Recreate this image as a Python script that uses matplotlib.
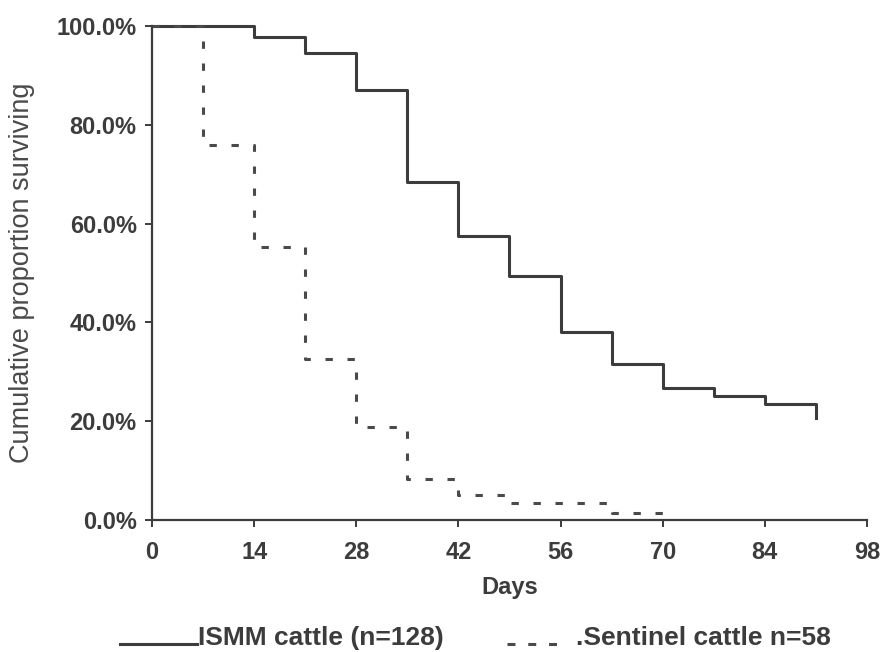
import matplotlib.pyplot as plt
from matplotlib.lines import Line2D
from matplotlib.ticker import FuncFormatter

plt.rcParams['font.family'] = ['Liberation Sans', 'DejaVu Sans']

# Kaplan-Meier steps (days, % surviving)
ismm_days = [0, 14, 21, 28, 35, 42, 49, 56, 63, 70, 77, 84, 91]
ismm_surv = [100, 97.8, 94.6, 87.0, 68.5, 57.5, 49.4, 38.1, 31.6, 26.8, 25.2, 23.5, 20.6]

sent_days = [0, 7, 14, 21, 28, 35, 42, 49, 63, 70]
sent_surv = [100, 75.9, 55.3, 32.5, 18.9, 8.4, 5.1, 3.5, 1.5, 0]

x_ticks = [0, 14, 28, 42, 56, 70, 84, 98]
y_ticks = [0, 20, 40, 60, 80, 100]

ink = '#3c3c3c'
W, H = 883, 652

fig = plt.figure(figsize=(W / 100, H / 100), dpi=100)
ax = fig.add_axes([152 / W, 1 - 520 / H, 715 / W, 494 / H])

ax.step(ismm_days, ismm_surv, where='post', color=ink, lw=2.2, clip_on=False)
ax.step(sent_days, sent_surv, where='post', color='#4a4a4a', lw=2.2,
        dashes=(2.4, 4.8), clip_on=False)

ax.set_xlim(0, 98)
ax.set_ylim(0, 100)
ax.set_xticks(x_ticks)
ax.set_yticks(y_ticks)
ax.yaxis.set_major_formatter(FuncFormatter(lambda v, p: f'{v:.1f}%'))

for s in ['top', 'right']:
    ax.spines[s].set_visible(False)
for s in ['left', 'bottom']:
    ax.spines[s].set_color(ink)
    ax.spines[s].set_linewidth(1.6)

ax.tick_params(axis='both', direction='out', length=5, width=1.4, color=ink,
               labelcolor=ink, labelsize=17)
ax.tick_params(axis='x', pad=10)
ax.tick_params(axis='y', pad=6)
for lab in ax.get_xticklabels() + ax.get_yticklabels():
    lab.set_fontweight('bold')

ax.set_xlabel('Days', fontsize=17, fontweight='bold', color=ink, labelpad=9)
fig.text(22 / W, 1 - 273 / H, 'Cumulative proportion surviving', rotation=90,
         ha='center', va='center', fontsize=19.5, color='#4a4a4a')

# legend drawn underneath like the original
base = 1 - 645 / H
fig.add_artist(Line2D([120 / W, 197 / W], [base + 1 / H] * 2,
                      transform=fig.transFigure, color=ink, lw=2.2))
fig.text(198 / W, base, 'ISMM cattle (n=128)', ha='left', va='baseline',
         fontsize=19, fontweight='bold', color=ink)
fig.add_artist(Line2D([507 / W, 562 / W], [base + 1 / H] * 2,
                      transform=fig.transFigure, color='#4a4a4a', lw=2.2,
                      dashes=(2.6, 4.2)))
fig.text(576 / W, base, '.Sentinel cattle n=58', ha='left', va='baseline',
         fontsize=19, fontweight='bold', color=ink)

fig.savefig('out.png', dpi=100)
